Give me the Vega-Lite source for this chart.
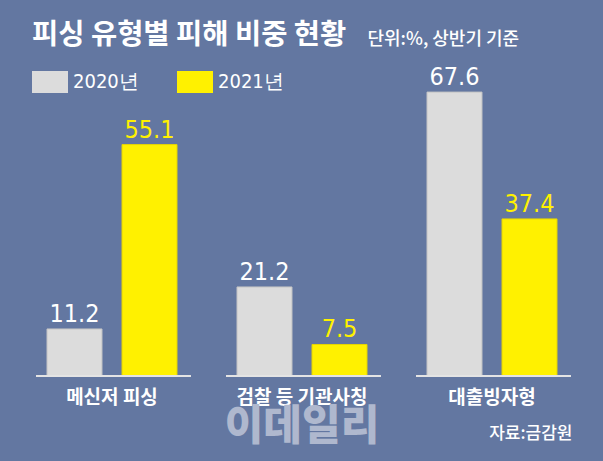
{
  "$schema": "https://vega.github.io/schema/vega-lite/v6.json",
  "width": 570,
  "height": 296,
  "autosize": {"type": "none"},
  "padding": {"left": 17, "top": 80, "right": 16, "bottom": 85},
  "background": "#6377a1",
  "title": {
    "text": "피싱 유형별 피해 비중 현황",
    "anchor": "start",
    "frame": "group",
    "dx": 15,
    "offset": -42,
    "baseline": "alphabetic",
    "font": "Noto Sans CJK KR",
    "fontSize": 28.5,
    "fontWeight": "bold",
    "color": "white"
  },
  "data": {
    "values": [
      {"category": "메신저 피싱", "year": "2020년", "value": 11.2},
      {"category": "메신저 피싱", "year": "2021년", "value": 55.1},
      {"category": "검찰 등 기관사칭", "year": "2020년", "value": 21.2},
      {"category": "검찰 등 기관사칭", "year": "2021년", "value": 7.5},
      {"category": "대출빙자형", "year": "2020년", "value": 67.6},
      {"category": "대출빙자형", "year": "2021년", "value": 37.4}
    ]
  },
  "encoding": {
    "x": {
      "field": "category",
      "type": "nominal",
      "sort": null,
      "scale": {"paddingInner": 0, "paddingOuter": 0},
      "axis": {
        "title": "자료:금감원",
        "titleX": 555,
        "titleY": 62,
        "titleAlign": "right",
        "titleBaseline": "alphabetic",
        "titleFont": "Noto Sans CJK KR",
        "titleFontSize": 17,
        "titleFontWeight": 500,
        "titleColor": "white",
        "domain": false,
        "ticks": false,
        "labelAngle": 0,
        "labelPadding": 12,
        "labelFont": "Noto Sans CJK KR",
        "labelFontSize": 19,
        "labelFontWeight": "bold",
        "labelColor": "white"
      }
    }
  },
  "layer": [
    {
      "mark": {"type": "bar", "strokeWidth": 1},
      "encoding": {
        "xOffset": {
          "field": "year",
          "type": "nominal",
          "scale": {"paddingInner": 0.267, "paddingOuter": 0.4}
        },
        "y": {
          "field": "value",
          "type": "quantitative",
          "scale": {"domain": [0, 70.476], "nice": false, "zero": true},
          "axis": {
            "title": "단위:%, 상반기 기준",
            "titleAngle": 0,
            "titleX": 350,
            "titleY": -36,
            "titleAlign": "left",
            "titleBaseline": "alphabetic",
            "titleFont": "Noto Sans CJK KR",
            "titleFontSize": 18,
            "titleFontWeight": 500,
            "titleColor": "white",
            "labels": false,
            "ticks": false,
            "domain": false,
            "grid": false
          }
        },
        "color": {
          "field": "year",
          "type": "nominal",
          "scale": {"domain": ["2020년", "2021년"], "range": ["#dcdcdc", "#fff100"]},
          "legend": {
            "title": null,
            "orient": "none",
            "legendX": 15,
            "legendY": -16,
            "direction": "horizontal",
            "symbolType": "M-1,-0.611L1,-0.611L1,0.611L-1,0.611Z",
            "symbolSize": 1296,
            "symbolStrokeWidth": 0,
            "symbolOpacity": 1,
            "labelFont": "Liberation Sans Narrow, DejaVu Sans Condensed, Roboto, Liberation Sans, sans-serif",
            "labelFontSize": 20,
            "labelColor": "white",
            "labelOffset": 5,
            "columnPadding": 38,
            "padding": 0
          }
        },
        "stroke": {
          "field": "year",
          "type": "nominal",
          "scale": {"domain": ["2020년", "2021년"], "range": ["#c4c4c4", "#e6d600"]},
          "legend": null
        }
      }
    },
    {
      "mark": {
        "type": "text",
        "dy": -7,
        "baseline": "alphabetic",
        "align": "center",
        "font": "Liberation Sans Narrow, DejaVu Sans Condensed, Roboto, Liberation Sans, sans-serif",
        "fontSize": 25
      },
      "encoding": {
        "xOffset": {"field": "year", "type": "nominal"},
        "y": {"field": "value", "type": "quantitative"},
        "text": {"field": "value", "type": "quantitative", "format": ".1f"},
        "color": {
          "condition": {"test": "datum.year === '2020년'", "value": "white"},
          "value": "#fff100"
        }
      }
    },
    {
      "mark": {"type": "rule", "color": "#e4e4e4", "strokeWidth": 2},
      "encoding": {
        "x": {"field": "category", "type": "nominal", "sort": null, "bandPosition": 0.1},
        "x2": {"field": "category", "bandPosition": 0.915},
        "y": {"datum": 0, "type": "quantitative"}
      }
    },
    {
      "data": {"values": [{"category": "검찰 등 기관사칭", "mark": "이데일리"}]},
      "mark": {
        "type": "text",
        "dy": 64,
        "baseline": "alphabetic",
        "align": "center",
        "font": "Noto Sans CJK KR",
        "fontSize": 42,
        "fontWeight": 900,
        "color": "#afb8ce"
      },
      "encoding": {
        "x": {"field": "category", "type": "nominal", "sort": null},
        "y": {"datum": 0, "type": "quantitative"},
        "text": {"field": "mark"}
      }
    }
  ],
  "config": {"view": {"stroke": null}}
}
